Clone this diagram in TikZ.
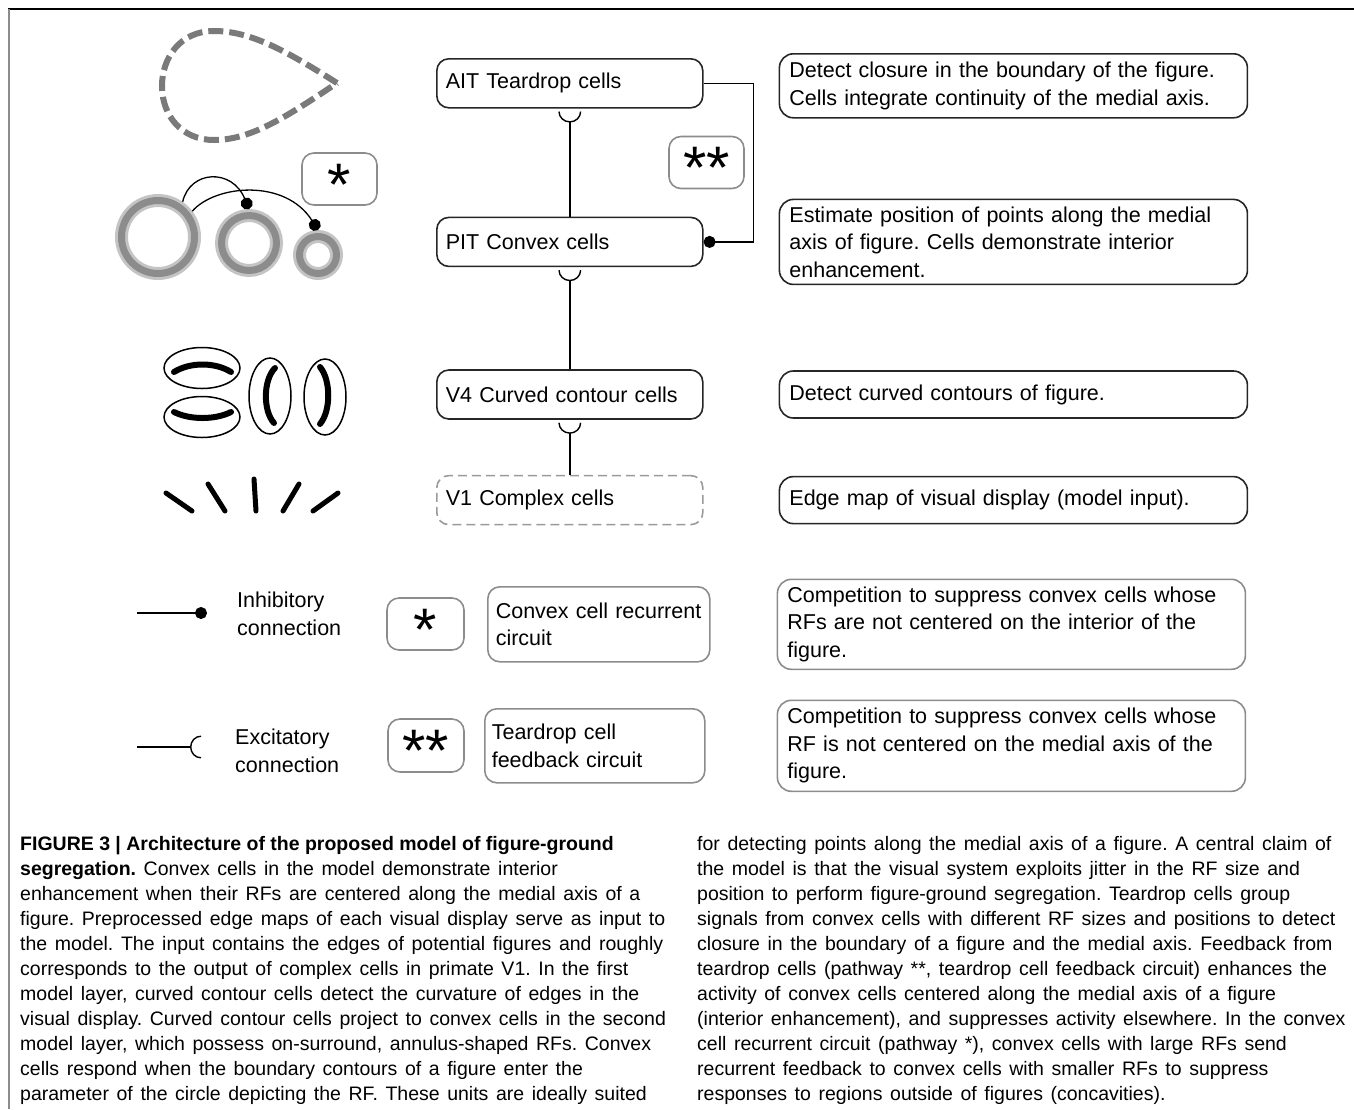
\documentclass[tikz,border=0pt]{standalone}
\usepackage{fontspec}
\setmainfont{Liberation Sans}
\usepackage{xcolor}
\usetikzlibrary{arrows.meta, positioning, shapes.geometric}

\definecolor{boxgray}{HTML}{8C8C8C}
\definecolor{ringlight}{HTML}{C4C4C4}
\definecolor{ringdark}{HTML}{8C8C8C}
\definecolor{dropgray}{HTML}{7A7A7A}
\definecolor{dashgray}{HTML}{9A9A9A}

\newcommand{\keystar}[1]{\raisebox{-0.44em}[0pt][0pt]{#1}}
\newcommand{\capfont}{\fontsize{19.5}{25}\selectfont\spaceskip=7.6pt plus 1pt minus 1pt\relax}

\begin{document}
\frenchspacing
\begin{tikzpicture}[
  x=1pt, y=1pt,
  node distance=75pt,
  layernode/.style={
    rectangle, rounded corners=12pt, draw=black!85, line width=1.6pt,
    minimum width=266pt, minimum height=49pt, text width=248pt,
    inner xsep=9pt, align=left, font=\fontsize{21.5}{27}\selectfont
  },
  descnode/.style={
    rectangle, rounded corners=14pt, draw=black!85, line width=1.6pt,
    minimum width=468pt, text width=448pt, inner xsep=10pt, inner ysep=2pt,
    align=left, font=\fontsize{21.5}{27.5}\selectfont
  },
  keynode/.style={
    rectangle, rounded corners=12pt, draw=boxgray, line width=1.6pt,
    inner xsep=8pt, align=left, font=\fontsize{21.5}{27.5}\selectfont
  },
  starnode/.style={
    rectangle, rounded corners=12pt, draw=boxgray, line width=1.6pt,
    minimum width=75pt, minimum height=52pt, inner sep=0pt,
    font=\fontsize{60}{60}\selectfont
  },
  keytext/.style={align=left, inner sep=0pt, font=\fontsize{21.5}{28}\selectfont},
  ringnode/.style={
    circle, draw=ringlight, line width=13pt, inner sep=0pt,
    postaction={draw=ringdark, line width=7pt}
  },
  rfoutline/.style={draw=black, line width=1.5pt},
  rfbar/.style={draw=black, line width=6pt, line cap=round},
  excite/.style={draw, line width=1.4pt, -{Arc Barb[reversed, length=11pt, width=23pt]}},
  inhibit/.style={draw, line width=1.4pt, -{Circle[length=12pt]}},
  captext/.style={align=left, inner sep=0pt, font=\capfont},
]
\useasboundingbox (0,0) rectangle (1354,-1109);

% frame of the figure
\draw[black, line width=1.5pt] (8,-9) -- (1354,-9);
\draw[boxgray, line width=2pt] (9,-9) -- (9,-1109);

% ============================================================
% MODEL LAYERS (centre column)
% ============================================================
\node[layernode, anchor=north west] (ait) at (436,-58) {AIT Teardrop cells};
\node[layernode, below=108pt of ait] (pit) {PIT Convex cells};
\node[layernode, below=102pt of pit] (v4) {V4 Curved contour cells};
\node[layernode, below=55pt of v4, draw=dashgray, dash pattern=on 9pt off 5pt] (v1) {V1 Complex cells};

% feed-forward (excitatory) links
\draw[excite, shorten >=3pt] (pit) -- (ait);
\draw[excite, shorten >=3pt] (v4) -- (pit);
\draw[excite, shorten >=3pt] (v1) -- (v4);

% teardrop feedback (inhibitory onto PIT)
\draw[inhibit] (ait.east) -- ++(50,0) |- (pit.east);
\node[starnode] (starfb) at (706.5,-162.5) {\keystar{**}};

% ============================================================
% DESCRIPTIONS (right column)
% ============================================================
\node[descnode, right=75pt of ait, minimum height=64pt, yshift=-2.5pt] (closure)
  {Detect closure in the boundary of the figure.\\
   Cells integrate continuity of the medial axis.};
\node[descnode, right=75pt of pit, minimum height=85pt] (medial)
  {Estimate position of points along the medial\\
   axis of figure. Cells demonstrate interior\\
   enhancement.};
\node[descnode, right=75pt of v4, minimum height=47pt] (curved)
  {Detect curved contours of figure.};
\node[descnode, right=75pt of v1, minimum height=47pt] (edgemap)
  {Edge map of visual display (model input).};

% ============================================================
% ICONS (left column)
% ============================================================
% teardrop outline
\draw[dropgray, line width=6pt, dash pattern=on 15pt off 6pt]
  (337,-83) .. controls (285,-50) and (250,-31) .. (214,-31)
  .. controls (180,-31) and (162,-58) .. (162,-86)
  .. controls (162,-116) and (182,-140) .. (214,-140)
  .. controls (250,-140) and (285,-118) .. (337,-83);

% annulus receptive fields + recurrent circuit
\node[ringnode, minimum size=73pt] (bigring) at (158,-237) {};
\node[ringnode, minimum size=55pt] (midring) at (249,-243) {};
\node[ringnode, minimum size=37pt] (smallring) at (318,-255) {};
\draw[inhibit, line width=1.3pt]
  (bigring.55) .. controls (190,-170) and (232,-168) .. (midring.north);
\draw[inhibit, line width=1.3pt]
  (bigring.37) .. controls (215,-185) and (285,-178) .. (smallring.north);
\node[starnode] (starrc) at (339.5,-179) {\keystar{*}};

% curved contour receptive fields
\draw[rfoutline] (202,-368) ellipse [x radius=38, y radius=20.5];
\draw[rfoutline] (202,-417) ellipse [x radius=38, y radius=20.5];
\draw[rfoutline] (270,-396) ellipse [x radius=21, y radius=38];
\draw[rfoutline] (325,-397) ellipse [x radius=21, y radius=38];
\draw[rfbar] (174,-372) .. controls (190,-362) and (215,-362) .. (231,-372);
\draw[rfbar] (174,-412) .. controls (190,-420) and (215,-420) .. (231,-412);
\draw[rfbar] (275,-368) .. controls (263,-380) and (263,-411) .. (274,-423);
\draw[rfbar] (320,-367) .. controls (331,-380) and (331,-411) .. (320,-424);

% oriented edges (V1)
\draw[rfbar, line width=5pt] (166,-493) -- (192,-511);
\draw[rfbar, line width=5pt] (208,-484) -- (225,-511);
\draw[rfbar, line width=5pt] (254,-479) -- (256,-511);
\draw[rfbar, line width=5pt] (299,-484) -- (283,-511);
\draw[rfbar, line width=5pt] (338,-493) -- (313,-511);

% ============================================================
% KEY
% ============================================================
\coordinate (inha) at (137,-613);
\coordinate (inhb) at (207,-613);
\draw[inhibit] (inha) -- (inhb);
\node[keytext, anchor=west] (inhtext) at (237,-614) {Inhibitory\\connection};

\coordinate (exca) at (137,-747);
\coordinate (excb) at (201,-747);
\draw[excite] (exca) -- (excb);
\node[keytext, anchor=west] (exctext) at (235,-751) {Excitatory\\connection};

\node[starnode, minimum width=77pt] (keyone) at (425.5,-624) {\keystar{*}};
\node[starnode, minimum width=76pt, minimum height=53pt] (keytwo) at (426,-745.5) {\keystar{**}};

\node[keynode, anchor=north west, minimum width=222pt, minimum height=75pt, text width=206pt]
  (convexkey) at (487,-586) {Convex cell recurrent\\circuit};
\node[keynode, anchor=north west, minimum width=220pt, minimum height=74pt, text width=206pt, inner xsep=7pt]
  (feedkey) at (484,-708) {Teardrop cell\\feedback circuit};

\node[descnode, draw=boxgray, right=66pt of convexkey, minimum height=90pt] (interior)
  {Competition to suppress convex cells whose\\
   RFs are not centered on the interior of the\\
   figure.};
\node[descnode, draw=boxgray, right=71pt of feedkey, minimum height=91pt] (axis)
  {Competition to suppress convex cells whose\\
   RF is not centered on the medial axis of the\\
   figure.};

% ============================================================
% CAPTION
% ============================================================
\node[captext, anchor=north west] (capleft) at (20,-836) {%
  {\bfseries\spaceskip=5.4pt plus 1pt\relax FIGURE 3 | Architecture of the proposed model of figure-ground}\\
  \textbf{segregation.} Convex cells in the model demonstrate interior\\
  enhancement when their RFs are centered along the medial axis of a\\
  figure. Preprocessed edge maps of each visual display serve as input to\\
  the model. The input contains the edges of potential figures and roughly\\
  corresponds to the output of complex cells in primate V1. In the first\\
  model layer, curved contour cells detect the curvature of edges in the\\
  visual display. Curved contour cells project to convex cells in the second\\
  model layer, which possess on-surround, annulus-shaped RFs. Convex\\
  cells respond when the boundary contours of a figure enter the\\
  parameter of the circle depicting the RF. These units are ideally suited};
\node[captext, anchor=north west] (capright) at (697,-836) {%
  for detecting points along the medial axis of a figure. A central claim of\\
  the model is that the visual system exploits jitter in the RF size and\\
  position to perform figure-ground segregation. Teardrop cells group\\
  signals from convex cells with different RF sizes and positions to detect\\
  closure in the boundary of a figure and the medial axis. Feedback from\\
  teardrop cells (pathway **, teardrop cell feedback circuit) enhances the\\
  activity of convex cells centered along the medial axis of a figure\\
  (interior enhancement), and suppresses activity elsewhere. In the convex\\
  cell recurrent circuit (pathway *), convex cells with large RFs send\\
  recurrent feedback to convex cells with smaller RFs to suppress\\
  responses to regions outside of figures (concavities).};

\end{tikzpicture}
\end{document}
